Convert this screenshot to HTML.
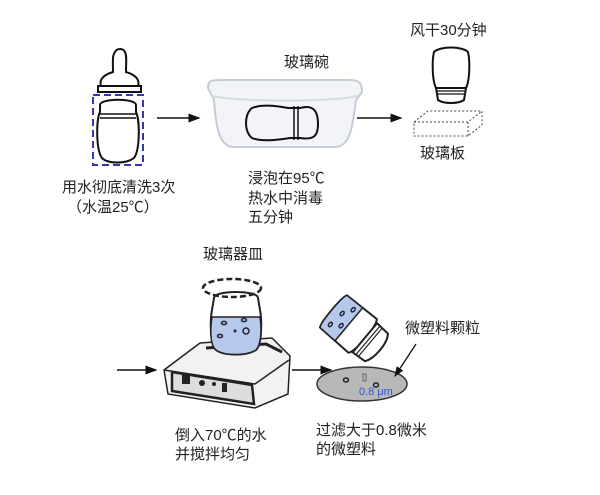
<!DOCTYPE html>
<html><head><meta charset="utf-8"><style>
html,body{margin:0;padding:0;background:#fff;width:600px;height:495px;overflow:hidden}
svg text{font-family:"Liberation Sans","Noto Sans CJK SC",sans-serif;font-size:15px;fill:#222}
</style></head><body>
<svg width="600" height="495" viewBox="0 0 600 495" xmlns="http://www.w3.org/2000/svg">
<defs><marker id="ah" markerWidth="8" markerHeight="8" refX="7" refY="4" orient="auto"><path d="M0,1 L8,4 L0,7 Z" fill="#111"/></marker></defs>
<!-- step1: nipple + jar -->
<path d="M113,72 C113,62 112,56 115,52 C117,48 123,48 125,52 C127,56 126,62 126,72 C136,75 140,80 138,86 L101,86 C99,80 103,75 113,72 Z" fill="#fff" stroke="#111" stroke-width="2"/>
<path d="M98,86 L141,86 L141,92 L98,92 Z" fill="#fff" stroke="#111" stroke-width="2"/>
<rect x="93" y="95" width="50" height="70" fill="none" stroke="#3339aa" stroke-width="2" stroke-dasharray="7,4"/>
<path d="M100,105 C100,98 136,98 136,105 L136,112 C140,120 140,150 134,158 C126,164 108,164 102,158 C96,150 96,120 100,112 Z" fill="#fff" stroke="#111" stroke-width="2"/>
<path d="M100,114 L136,114 M100,118 L136,118" stroke="#111" stroke-width="1.5"/>
<text x="62" y="192">用水彻底清洗3次</text>
<text x="67" y="212">（水温25℃）</text>
<line x1="157" y1="118" x2="199" y2="118" stroke="#111" stroke-width="1.5" marker-end="url(#ah)"/>
<!-- bowl -->
<text x="284" y="67">玻璃碗</text>
<path d="M208,88 C208,80 212,80 222,80 L350,80 C360,80 362,84 362,92 L356,100 C352,130 350,145 336,147 L232,147 C220,145 216,130 214,100 Z" fill="#f2f4f8" stroke="#c5cbd8" stroke-width="2"/>
<path d="M212,96 C240,102 330,102 358,96" fill="none" stroke="#d5dbe6" stroke-width="2"/>
<path d="M252,108 C262,104 278,106 288,108 L300,108 C314,104 318,112 318,124 C318,136 314,140 300,138 L290,138 C278,140 262,142 252,138 C244,132 244,114 252,108 Z" fill="none" stroke="#111" stroke-width="2"/>
<path d="M294,106 L294,140 M298,106 L298,140" stroke="#111" stroke-width="1.5"/>
<text x="248" y="183">浸泡在95℃</text>
<text x="248" y="203">热水中消毒</text>
<text x="248" y="222">五分钟</text>
<line x1="357" y1="118" x2="401" y2="118" stroke="#111" stroke-width="1.5" marker-end="url(#ah)"/>
<!-- step3 -->
<text x="410" y="35">风干30分钟</text>
<path d="M434,52 C440,46 462,46 468,52 C470,60 470,80 466,88 L436,88 C432,80 432,60 434,52 Z" fill="#fff" stroke="#111" stroke-width="2"/>
<path d="M436,88 L466,88 L464,100 C458,104 444,104 438,100 Z" fill="#fff" stroke="#111" stroke-width="2"/>
<path d="M436,91 L466,91 M436,94 L466,94" stroke="#111" stroke-width="1.3"/>
<path d="M414,122 L428,111 L482,111 L482,125 L468,136 L414,136 Z M414,122 L468,122 L482,111 M468,122 L468,136" fill="none" stroke="#444" stroke-width="1" stroke-dasharray="2,2"/>
<text x="420" y="158">玻璃板</text>
<!-- bottom -->
<text x="203" y="259">玻璃器皿</text>
<line x1="117" y1="370" x2="156" y2="370" stroke="#111" stroke-width="1.5" marker-end="url(#ah)"/>
<!-- stirrer -->
<path d="M200,343 L272,338 L290,356 L288,394 L255,408 L168,394 L164,370 Z" fill="#f2f2f2" stroke="#222" stroke-width="1.5"/>
<path d="M164,370 L255,384 L289,360" fill="none" stroke="#222" stroke-width="1.5"/>
<path d="M172,372 L252,385 L254,404 L172,391 Z" fill="#ddd" stroke="#222" stroke-width="2.5"/>
<rect x="182" y="375" width="8" height="9" fill="#222"/>
<circle cx="202" cy="383" r="3" fill="#222"/><circle cx="214" cy="384" r="2" fill="#222"/><rect x="222" y="383" width="5" height="9" fill="#222"/>
<path d="M206,348 L266,344 L282,352" fill="none" stroke="#222" stroke-width="3"/>
<!-- jar with water -->
<path d="M214,298 C214,290 258,290 258,298 L260,310 C262,320 262,345 256,350 C246,356 224,356 216,350 C210,345 210,320 212,310 Z" fill="#fff" stroke="#222" stroke-width="2"/>
<path d="M212,317 L260,317 C262,330 261,345 256,350 C246,356 224,356 216,350 C210,345 210,330 212,317 Z" fill="#b6c8ec" stroke="#222" stroke-width="1.5"/>
<ellipse cx="232" cy="288" rx="29" ry="9" fill="none" stroke="#222" stroke-width="2.5" stroke-dasharray="6,3"/>
<ellipse cx="224" cy="323" rx="2.5" ry="1.6" fill="none" stroke="#223" stroke-width="1.5"/>
<ellipse cx="244" cy="320" rx="2.5" ry="1.6" fill="none" stroke="#223" stroke-width="1.5"/>
<ellipse cx="220" cy="336" rx="2.5" ry="1.6" fill="none" stroke="#223" stroke-width="1.5"/>
<circle cx="235" cy="331" r="1.5" fill="#223"/>
<circle cx="246" cy="331" r="3" fill="none" stroke="#223" stroke-width="1.5"/>
<text x="175" y="440">倒入70℃的水</text>
<text x="175" y="459">并搅拌均匀</text>
<line x1="292" y1="370" x2="331" y2="370" stroke="#111" stroke-width="1.5" marker-end="url(#ah)"/>
<!-- tilted bottle: bottom upper-left, neck lower-right -->
<g transform="rotate(-50 358 332)">
<path d="M337,300 C342,297 374,297 379,300 L380,338 C375,343 341,343 336,338 Z" fill="#fff" stroke="#222" stroke-width="2"/>
<path d="M337,300 C342,297 374,297 379,300 L379.5,320 L336.5,320 Z" fill="#b6c8ec" stroke="#222" stroke-width="1.5"/>
<path d="M339,341 L377,341 L376,356 C368,362 348,362 340,356 Z" fill="#fff" stroke="#222" stroke-width="2"/>
<path d="M339,345 L377,345 M339,348 L377,348" stroke="#222" stroke-width="1.2"/>
<ellipse cx="346" cy="306" rx="2.5" ry="1.6" fill="none" stroke="#223" stroke-width="1.5"/>
<ellipse cx="362" cy="308" rx="2.5" ry="1.6" fill="none" stroke="#223" stroke-width="1.5"/>
<ellipse cx="372" cy="314" rx="2.5" ry="1.6" fill="none" stroke="#223" stroke-width="1.5"/>
<ellipse cx="352" cy="315" rx="2.5" ry="1.6" fill="none" stroke="#223" stroke-width="1.5"/>
</g>
<!-- filter -->
<ellipse cx="362" cy="384" rx="45" ry="17" fill="#b8b8b8" stroke="#333" stroke-width="1.5"/>
<ellipse cx="346" cy="380" rx="2.5" ry="2" fill="none" stroke="#222" stroke-width="1.5"/>
<ellipse cx="376" cy="385" rx="2.5" ry="2" fill="none" stroke="#222" stroke-width="1.5"/>
<rect x="363" y="374" width="3" height="7" fill="none" stroke="#666" stroke-width="1"/>
<text x="359" y="395" style="font-size:11px;fill:#3a55d0">0.8 μm</text>
<text x="405" y="333">微塑料颗粒</text>
<line x1="416" y1="344" x2="395" y2="376" stroke="#111" stroke-width="1.3" marker-end="url(#ah)"/>
<text x="316" y="435">过滤大于0.8微米</text>
<text x="316" y="454">的微塑料</text>
</svg>
</body></html>
